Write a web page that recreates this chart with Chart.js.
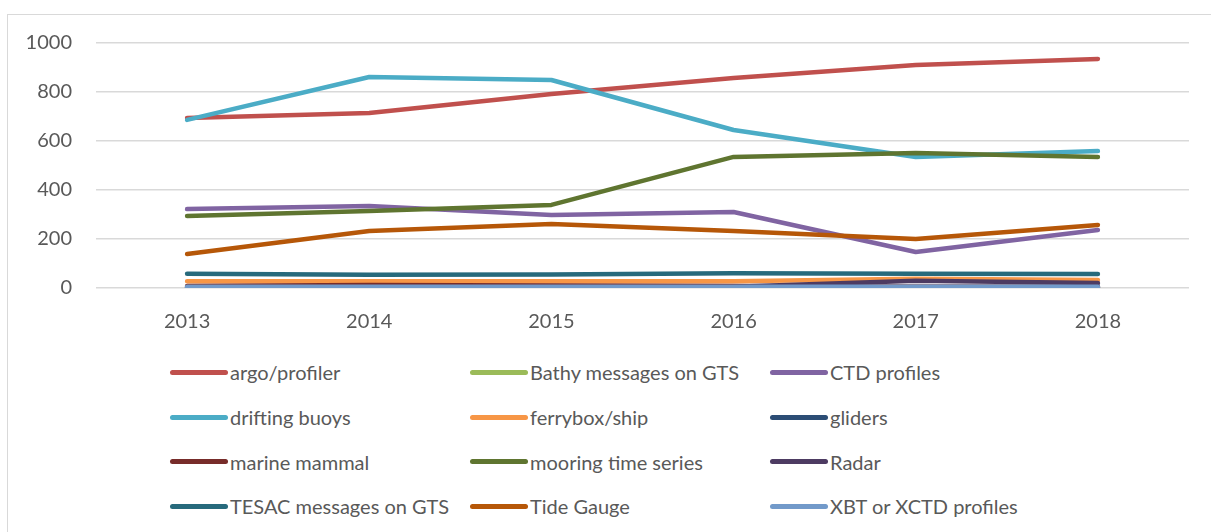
<!DOCTYPE html>
<html>
<head>
<meta charset="utf-8">
<script src="https://cdn.jsdelivr.net/npm/chart.js@4"></script>
<style>
  html, body { margin: 0; padding: 0; background: #fff; width: 1211px; height: 532px; overflow: hidden; }
  #frame { position: absolute; left: 7px; top: 14px; width: 1220px; height: 540px; border: 1.5px solid #d9d9d9; box-sizing: border-box; }
  #wrap { position: absolute; left: 0; top: 0; width: 1211px; height: 340px; }
  #legend { position: absolute; left: 170px; top: 350px; display: grid; grid-template-columns: 300px 300px 300px; grid-auto-rows: 44.7px; font-family: Lato, "Open Sans", sans-serif; font-size: 20px; color: #595959; }
  .item { display: flex; align-items: center; white-space: nowrap; }
  .swatch { display: inline-block; width: 58px; height: 5px; border-radius: 3px; margin-right: 2px; }
</style>
</head>
<body>
<div id="frame"></div>
<div id="wrap"><canvas id="chart"></canvas></div>
<div id="legend"></div>
<script>
// años
const years = ['2013', '2014', '2015', '2016', '2017', '2018'];
const yTicks = [0, 200, 400, 600, 800, 1000];

// series
const names = ['argo/profiler', 'Bathy messages on GTS', 'CTD profiles', 'drifting buoys', 'ferrybox/ship', 'gliders',
  'marine mammal', 'mooring time series', 'Radar', 'TESAC messages on GTS', 'Tide Gauge', 'XBT or XCTD profiles'];
const argo = [694, 714, 792, 857, 910, 935];
const bathy = [0, 0, 0, 0, 0, 0];
const ctd = [322, 335, 298, 310, 147, 237];
const drifting = [686, 861, 849, 645, 535, 559];
const ferrybox = [28, 28, 28, 28, 38, 33];
const gliders = [2, 2, 2, 3, 4, 4];
const mammal = [8, 12, 10, 8, 5, 5];
const mooring = [294, 314, 339, 535, 551, 535];
const radar = [0, 0, 0, 5, 30, 20];
const tesac = [58, 54, 55, 60, 58, 57];
const tide = [139, 233, 261, 233, 200, 257];
const xbt = [5, 5, 5, 5, 5, 5];
const values = [argo, bathy, ctd, drifting, ferrybox, gliders, mammal, mooring, radar, tesac, tide, xbt];

const colors = ['#C0504D', '#9BBB59', '#8064A2', '#4BACC6', '#F79646', '#2C4D75',
  '#772C2A', '#5F7530', '#4D3B62', '#276A7C', '#B65708', '#729ACA'];

document.addEventListener('DOMContentLoaded', () => {
    const ctx = document.getElementById('chart');
    const font = { family: 'Lato, "Open Sans", sans-serif', size: 20 };

    const datasets = names.map((n, i) => ({
        label: n,
        data: values[i],
        borderColor: colors[i],
        backgroundColor: colors[i],
        borderWidth: 4.5,
        borderCapStyle: 'round',
        borderJoinStyle: 'round',
        pointRadius: 0,
        tension: 0,
        order: names.length - i // las últimas series encima, como en Excel
    }));

    new Chart(ctx, {
        type: 'line',
        data: { labels: years, datasets: datasets },
        options: {
            responsive: true,
            maintainAspectRatio: false,
            animation: false,
            layout: { padding: { top: 43, right: 22, left: 0, bottom: 0 } },
            plugins: { legend: { display: false }, tooltip: { enabled: false } },
            scales: {
                x: {
                    offset: true,
                    grid: { display: false },
                    border: { display: false },
                    ticks: { color: '#595959', font: font, padding: 14 },
                    afterFit: s => { s.height = 52; }
                },
                y: {
                    min: 0,
                    max: 1000,
                    afterBuildTicks: s => { s.ticks = yTicks.map(v => ({ value: v })); },
                    grid: { color: '#d9d9d9', lineWidth: 1.5, drawTicks: false },
                    border: { display: false },
                    ticks: { color: '#595959', font: font, padding: 24, callback: v => String(v) },
                    afterFit: s => { s.width = 96; }
                }
            }
        }
    });

    // leyenda en rejilla de 3 columnas
    const legend = document.getElementById('legend');
    names.forEach((n, i) => {
        const item = document.createElement('div');
        item.className = 'item';
        const sw = document.createElement('span');
        sw.className = 'swatch';
        sw.style.background = colors[i];
        item.appendChild(sw);
        item.appendChild(document.createTextNode(n));
        legend.appendChild(item);
    });
});
</script>
</body>
</html>
